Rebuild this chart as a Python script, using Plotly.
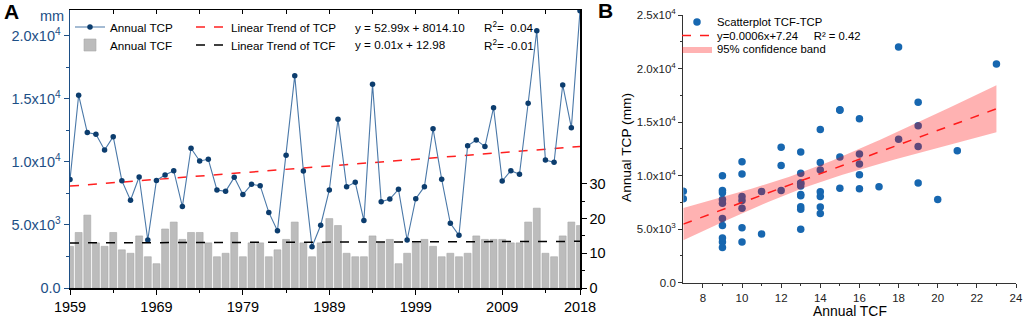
import numpy as np
import plotly.graph_objects as go

# ---------------- data ----------------
years = list(range(1959, 2019))
tcp = [8600, 15300, 12330, 12200, 10950, 12010, 8520, 6960, 8810, 3810,
       8540, 8970, 9310, 6460, 11090, 10080, 10210, 7780, 7670, 8780,
       7410, 8230, 8120, 6000, 4550, 10530, 16850, 9290, 3280, 4980,
       7780, 13390, 8040, 8390, 5350, 16160, 6850, 7060, 7830, 3810,
       7090, 8040, 12640, 8620, 5130, 4180, 11290, 11750, 11220, 14310,
       8490, 9310, 9020, 14660, 20420, 10160, 9980, 16110, 12720, 22000]
tcf = [12, 16, 21, 13, 12, 16, 11, 10, 15, 9,
       7, 17, 19, 14, 16, 16, 13, 9, 10, 16,
       9, 13, 13, 9, 11, 14, 19, 13, 9, 13,
       20, 18, 10, 9, 9, 15, 13, 14, 7, 10,
       13, 14, 12, 9, 10, 9, 10, 15, 14, 14,
       14, 13, 13, 19, 23, 10, 9, 15, 19, 18]

year_ticks = [1959, 1969, 1979, 1989, 1999, 2009, 2018]
year_minor = [1964, 1974, 1984, 1994, 2004, 2014]
tcp_ticks = [0, 5000, 10000, 15000, 20000]
tcp_ticktext = ["0.0", "5.0x10<sup>3</sup>", "1.0x10<sup>4</sup>",
                "1.5x10<sup>4</sup>", "2.0x10<sup>4</sup>"]
tcf_ticks = [0, 10, 20, 30]
b_y_ticks = [0, 5000, 10000, 15000, 20000, 25000]
b_y_ticktext = ["0.0", "5.0x10<sup>3</sup>", "1.0x10<sup>4</sup>",
                "1.5x10<sup>4</sup>", "2.0x10<sup>4</sup>", "2.5x10<sup>4</sup>"]
b_x_ticks = [8, 10, 12, 14, 16, 18, 20, 22, 24]

eq_tcp = "y = 52.99x + 8014.10"
r2_tcp = "R<sup>2</sup>=  0.04"
eq_tcf = "y = 0.01x + 12.98"
r2_tcf = "R<sup>2</sup>= -0.01"
eq_b = "y=0.0006x+7.24\u00a0\u00a0\u00a0\u00a0\u00a0R\u00b2 = 0.42"

# ---------------- computations ----------------
yr = np.array(years, dtype=float)
p_tcp = np.polyfit(yr, tcp, 1)
p_tcf = np.polyfit(yr, tcf, 1)
trend_tcp = np.polyval(p_tcp, yr)
trend_tcf = np.polyval(p_tcf, yr)

xs = np.array(tcf, dtype=float)
ys = np.array(tcp, dtype=float)
n = len(xs)
pb = np.polyfit(xs, ys, 1)
resid = ys - np.polyval(pb, xs)
s = np.sqrt(np.sum(resid ** 2) / (n - 2))
xm = xs.mean()
sxx = np.sum((xs - xm) ** 2)
xline = np.linspace(7, 23, 60)
yline = np.polyval(pb, xline)
half = 2.002 * s * np.sqrt(1.0 / n + (xline - xm) ** 2 / sxx)

BLUE = "#1d4f86"
FONT = "Liberation Sans, Arial, sans-serif"
W, H = 1024, 319


def px(x):
    return x / W


def py(y):
    return 1 - y / H


fig = go.Figure()

# ---------------- panel A ----------------
fig.add_trace(go.Bar(x=years, y=tcf, xaxis="x", yaxis="y2", width=0.8,
                     marker=dict(color="#bcbcbc", line=dict(color="#a8a8a8", width=0.6)),
                     name="Annual TCF", legend="legend2"))
fig.add_trace(go.Scatter(x=years, y=trend_tcf, xaxis="x", yaxis="y2", mode="lines",
                         line=dict(color="black", width=1.5, dash="dash"),
                         name="Linear Trend of TCF", legend="legend4"))
fig.add_trace(go.Scatter(x=years, y=trend_tcp, xaxis="x", yaxis="y", mode="lines",
                         line=dict(color="#ff2020", width=1.5, dash="dash"),
                         name="Linear Trend of TCP", legend="legend3"))
fig.add_trace(go.Scatter(x=years, y=tcp, xaxis="x", yaxis="y", mode="lines+markers",
                         line=dict(color="#4a78a8", width=1.1),
                         marker=dict(color="#0c3d6e", size=5.5),
                         name="Annual TCP", legend="legend"))
fig.add_trace(go.Scatter(x=[years[0]], y=[0], xaxis="x3", yaxis="y", mode="markers",
                         marker=dict(opacity=0), showlegend=False, hoverinfo="skip"))

# ---------------- panel B ----------------
fig.add_trace(go.Scatter(x=xs, y=ys, xaxis="x2", yaxis="y3", mode="markers",
                         marker=dict(color="#1767b0", size=7.5),
                         name="Scatterplot TCF-TCP", legend="legend5"))
fig.add_trace(go.Scatter(x=np.concatenate([xline, xline[::-1]]),
                         y=np.concatenate([yline + half, (yline - half)[::-1]]),
                         xaxis="x2", yaxis="y3", mode="lines", fill="toself",
                         fillcolor="rgba(255,0,0,0.30)", line=dict(width=0),
                         name="95% confidence band", legend="legend7"))
fig.add_trace(go.Scatter(x=xline, y=yline, xaxis="x2", yaxis="y3", mode="lines",
                         line=dict(color="#ff1a1a", width=1.5, dash="dash"),
                         name=eq_b, legend="legend6"))

ax_font = dict(family=FONT, size=14.5, color="black")
b_tick_font = dict(family=FONT, size=11.5, color="#222")


def leg(xp, yp, size):
    return dict(x=px(xp), y=py(yp), xanchor="left", yanchor="middle",
                bgcolor="rgba(0,0,0,0)", font=dict(family=FONT, size=size),
                itemwidth=30, borderwidth=0)


def ann(text, xp, yp, size, color="black", xanchor="left", bold=False, angle=0):
    return dict(text=("<b>%s</b>" % text) if bold else text, x=px(xp), y=py(yp),
                xref="paper", yref="paper", xanchor=xanchor, yanchor="middle",
                showarrow=False, textangle=angle,
                font=dict(family=FONT, size=size, color=color))


fig.update_layout(
    width=W, height=H,
    margin=dict(l=0, r=0, t=0, b=0),
    paper_bgcolor="white", plot_bgcolor="white",
    font=dict(family=FONT, size=12, color="black"),
    bargap=0,
    hovermode=False,
    xaxis=dict(domain=[px(70), px(580)], range=[1959, 2018], anchor="y",
               automargin=False,
               tickmode="array", tickvals=year_ticks, ticks="outside", ticklen=5,
               tickcolor="black", showline=True, linecolor="black", linewidth=1.5,
               mirror=True, showgrid=False, zeroline=False, tickfont=ax_font,
               minor=dict(tickmode="array", tickvals=year_minor, ticks="outside",
                          ticklen=3, tickcolor="black")),
    xaxis3=dict(domain=[px(70), px(580)], range=[1959, 2018], anchor="y",
                automargin=False,
                overlaying="x", side="top", tickmode="array",
                tickvals=year_ticks + year_minor, ticks="inside", ticklen=4,
                tickcolor="black", showticklabels=False, showline=False,
                showgrid=False, zeroline=False),
    yaxis=dict(domain=[py(288), py(10)], range=[0, 22060], anchor="x",
               automargin=False,
               tickmode="array", tickvals=tcp_ticks, ticktext=tcp_ticktext,
               ticks="outside", ticklen=5, tickcolor=BLUE, showline=True,
               linecolor=BLUE, linewidth=1.5, showgrid=False, zeroline=False,
               tickfont=dict(family=FONT, size=14.5, color=BLUE),
               minor=dict(tickmode="array", tickvals=[2500, 7500, 12500, 17500],
                          ticks="outside", ticklen=3, tickcolor=BLUE)),
    yaxis2=dict(domain=[py(288), py(10)], range=[0, 80.1], anchor="x",
                automargin=False,
                overlaying="y", side="right", tickmode="array", tickvals=tcf_ticks,
                ticks="outside", ticklen=5, tickcolor="black", showline=True,
                linecolor="black", linewidth=1.5, showgrid=False, zeroline=False,
                tickfont=ax_font,
                minor=dict(tickmode="array", tickvals=[5, 15, 25], ticks="outside",
                           ticklen=3, tickcolor="black")),
    xaxis2=dict(domain=[px(683.3), px(1016)], range=[7, 24], anchor="y3",
                automargin=False,
                tickmode="array", tickvals=b_x_ticks, ticks="outside", ticklen=4,
                tickcolor="#333", showline=True, linecolor="#333", linewidth=1.2,
                showgrid=False, zeroline=False, tickfont=b_tick_font,
                minor=dict(tickmode="array", tickvals=[9, 11, 13, 15, 17, 19, 21, 23],
                           ticks="outside", ticklen=2, tickcolor="#333")),
    yaxis3=dict(domain=[py(282.7), py(15)], range=[0, 25000], anchor="x2",
                automargin=False,
                tickmode="array", tickvals=b_y_ticks, ticktext=b_y_ticktext,
                ticks="outside", ticklen=4, tickcolor="#333", showline=True,
                linecolor="#333", linewidth=1.2, showgrid=False, zeroline=False,
                tickfont=b_tick_font,
                minor=dict(tickmode="array",
                           tickvals=[2500, 7500, 12500, 17500, 22500],
                           ticks="outside", ticklen=2, tickcolor="#333")),
    legend=leg(70, 27, 11.7),
    legend2=leg(70, 45, 11.7),
    legend3=leg(191, 27, 11.7),
    legend4=leg(191, 45, 11.7),
    legend5=leg(677, 22, 11.3),
    legend6=leg(677, 35.5, 11.3),
    legend7=leg(677, 49, 11.3),
    annotations=[
        ann("A", 2, 12, 21, bold=True),
        ann("B", 596, 11, 21, bold=True),
        ann("mm", 38, 16, 14.5, color=BLUE),
        ann(eq_tcp, 353, 27, 11.7),
        ann(r2_tcp, 482, 27, 11.7),
        ann(eq_tcf, 353, 45, 11.7),
        ann(r2_tcf, 482, 45, 11.7),
        ann("Annual TCF", 850, 311, 13.9, xanchor="center"),
        ann("Annual TCP (mm)", 626, 148, 13.7, xanchor="center", angle=-90),
    ],
)

fig.write_html("out.html",
               config={"displayModeBar": False, "staticPlot": True},
               post_script="document.body.style.margin='0px';"
                           "document.body.style.padding='0px';"
                           "document.documentElement.style.overflow='hidden';")
